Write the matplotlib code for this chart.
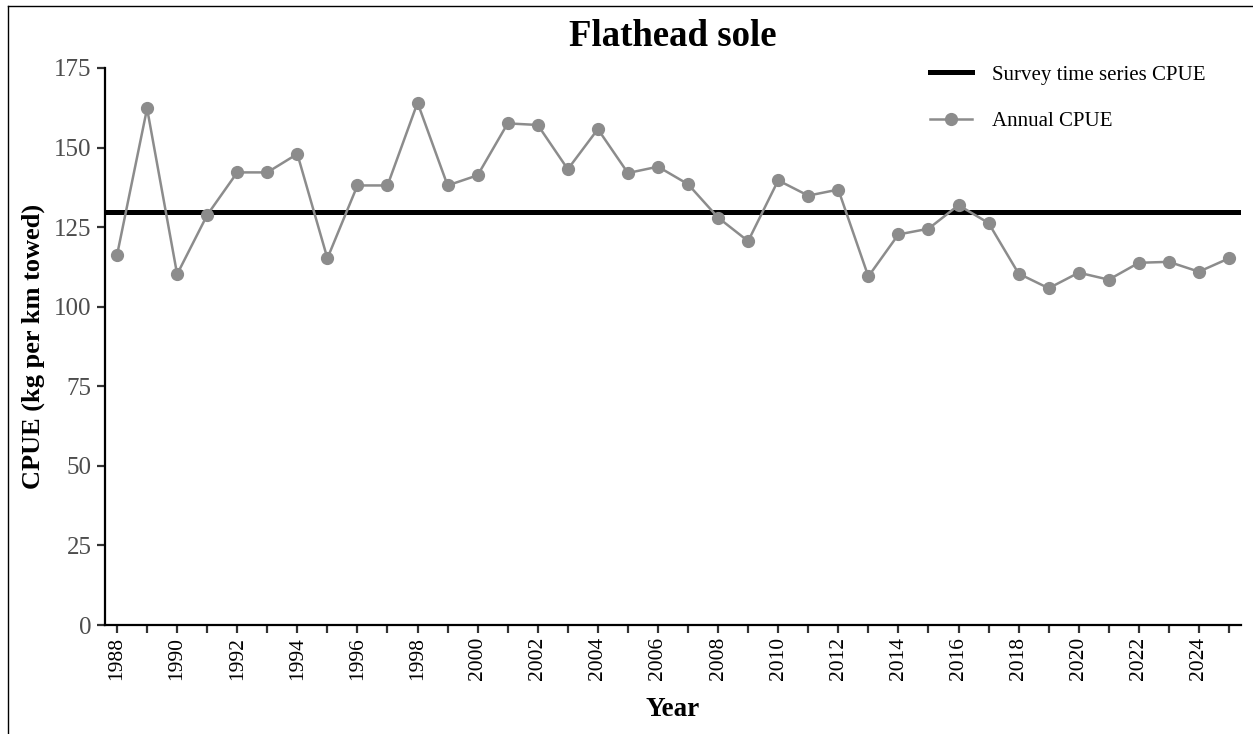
import matplotlib
matplotlib.use("Agg")
import matplotlib.pyplot as plt
from matplotlib.lines import Line2D

plt.rcParams['font.family'] = ['Liberation Serif', 'DejaVu Serif']

# data
years = list(range(1988, 2026))
cpue = [116.2, 162.3, 110.2, 128.8, 142.2, 142.2, 148.0, 115.2, 138.1, 138.1,
        164.1, 138.1, 141.3, 157.6, 157.1, 143.2, 155.8, 142.0, 144.0, 138.5,
        128.0, 120.6, 139.7, 134.9, 136.8, 109.5, 122.7, 124.5, 131.9, 126.3,
        110.4, 105.8, 110.7, 108.5, 113.8, 114.1, 111.0, 115.2]
survey_mean = 129.7
y_ticks = [0, 25, 50, 75, 100, 125, 150, 175]

fig = plt.figure(figsize=(12.53, 7.34), dpi=100)
ax = fig.add_axes([105/1253, 1 - 625/734, (1241 - 105)/1253, (625 - 68)/734])

ax.axhline(survey_mean, color='black', lw=3.6, label='Survey time series CPUE', zorder=2)
ax.plot(years, cpue, '-o', color='#8c8c8c', lw=1.8, ms=8.5, label='Annual CPUE', zorder=3)

ax.set_xlim(1987.6, 2025.4)
ax.set_ylim(0, 175)
ax.set_xticks(years)
ax.set_xticklabels([str(y) if y % 2 == 0 else '' for y in years], rotation=90, fontsize=15.5)
ax.set_yticks(y_ticks)
ax.set_yticklabels([str(v) for v in y_ticks], fontsize=18, color='#4d4d4d')
ax.tick_params(axis='both', length=5.5, width=1.6, color='#333333')
ax.tick_params(axis='x', pad=3)
ax.tick_params(axis='y', pad=4)

for s in ['top', 'right']:
    ax.spines[s].set_visible(False)
for s in ['left', 'bottom']:
    ax.spines[s].set_linewidth(1.6)

ax.set_xlabel('Year', fontsize=19.5, fontweight='bold', labelpad=12)
ax.set_ylabel('CPUE (kg per km towed)', fontsize=19, fontweight='bold', labelpad=7)
fig.text(673/1253, 1 - 37/734, 'Flathead sole', fontsize=26.5, fontweight='bold',
         ha='center', va='center')

leg = ax.legend(loc='upper left', bbox_to_anchor=(930/1253, 1 - 65/734),
                bbox_transform=fig.transFigure, frameon=False, fontsize=15,
                handlelength=2.0, handletextpad=1.0, labelspacing=1.3,
                borderpad=0, borderaxespad=0)

# frame lines on left and top edges of the image
fig.add_artist(Line2D([7.5/1253, 7.5/1253], [0, 1 - 6/734], color='black', lw=1.0))
fig.add_artist(Line2D([7.5/1253, 1], [1 - 6/734, 1 - 6/734], color='black', lw=1.0))

fig.savefig('out.png', dpi=100)
